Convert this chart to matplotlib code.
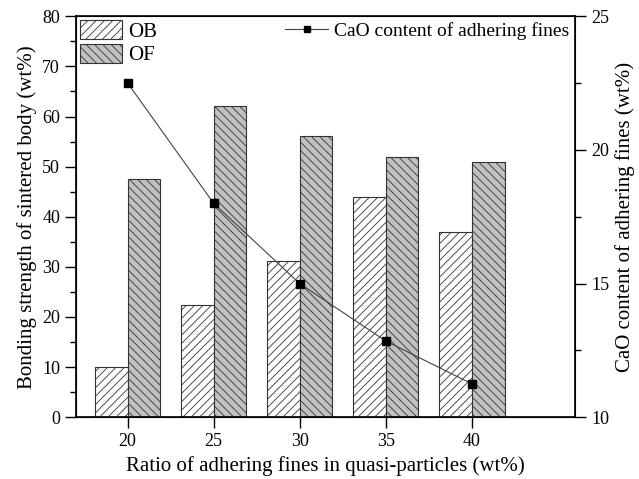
import matplotlib
matplotlib.use('Agg')
from matplotlib import pyplot as plt
from matplotlib.ticker import MultipleLocator

plt.rcParams['font.family'] = ['Liberation Serif', 'DejaVu Serif']
plt.rcParams['hatch.linewidth'] = 0.6
plt.rcParams['hatch.color'] = '#333333'

ratios = [20, 25, 30, 35, 40]
ob_strength = [10.0, 22.3, 31.2, 44.0, 36.9]
of_strength = [47.5, 62.1, 56.2, 52.0, 51.0]
cao_content = [22.5, 18.0, 15.0, 12.85, 11.25]

fig = plt.figure(figsize=(6.39, 4.79), dpi=100)
ax = fig.add_axes([0.119, 0.129, 0.781, 0.837])
w = 1.9
ob_x = [r - w / 2 for r in ratios]
of_x = [r + w / 2 for r in ratios]
b1 = ax.bar(ob_x, ob_strength, w, facecolor='white', edgecolor='#333333',
            hatch='////', linewidth=0.8, label='OB')
b2 = ax.bar(of_x, of_strength, w, facecolor='#c0c0c0', edgecolor='#333333',
            hatch='\\\\\\\\', linewidth=0.8, label='OF')
ax.set_xlim(17, 46)
ax.set_ylim(0, 80)
ax.set_xticks(ratios)
ax.yaxis.set_major_locator(MultipleLocator(10))
ax.yaxis.set_minor_locator(MultipleLocator(5))
ax.tick_params(axis='both', which='major', direction='out', length=8, width=1, labelsize=13)
ax.tick_params(axis='y', which='minor', direction='out', length=4, width=1)
ax.set_xlabel('Ratio of adhering fines in quasi-particles (wt%)', fontsize=15)
ax.set_ylabel('Bonding strength of sintered body (wt%)', fontsize=15)
for s in ax.spines.values():
    s.set_linewidth(1.2)

ax2 = ax.twinx()
l1, = ax2.plot(ratios, cao_content, color='#444444', linewidth=0.8, marker='s',
               markersize=6, markerfacecolor='black', markeredgecolor='black',
               label='CaO content of adhering fines')
ax2.set_ylim(10, 25)
ax2.yaxis.set_major_locator(MultipleLocator(5))
ax2.yaxis.set_minor_locator(MultipleLocator(2.5))
ax2.tick_params(axis='y', which='major', direction='out', length=8, width=1, labelsize=13)
ax2.tick_params(axis='y', which='minor', direction='out', length=4, width=1)
ax2.set_ylabel('CaO content of adhering fines (wt%)', fontsize=15)

leg1 = ax.legend(handles=[b1, b2], loc='upper left', frameon=False, fontsize=15,
                 handlelength=2.0, handleheight=1.0, handletextpad=0.3,
                 borderaxespad=0.1, labelspacing=0.1, borderpad=0.1)
ax2.legend(handles=[l1], loc='upper right', frameon=False, fontsize=14, markerscale=0.8,
           handlelength=2.2, handletextpad=0.3, borderaxespad=0.1, borderpad=0.2)

fig.savefig('out.png', dpi=100)
